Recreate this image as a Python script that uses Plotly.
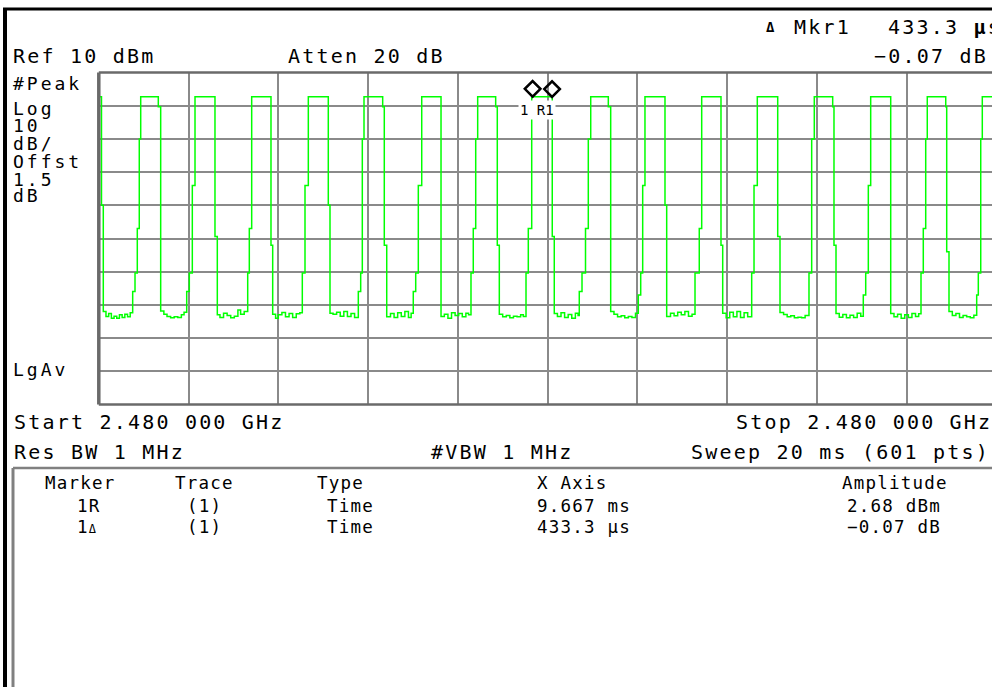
"""Spectrum analyzer zero-span screenshot: pulse train at 2.480 GHz."""

import plotly.graph_objects as go

W, H = 992, 687
FONT = "DejaVu Sans Mono"
TRACE_COLOR = "#00ff00"
GRID_COLOR = "#8a8a8a"
FRAME_COLOR = "#6a6a6a"

SWEEP_MS = 20.0
REF_DBM = 10.0
DB_PER_DIV = 10.0
N_DIV = 10

TRACE_MS = [
    0.000, 0.060,
    0.100, 0.160, 0.220, 0.280, 0.340, 0.400, 0.460, 0.520, 0.580, 0.640, 0.700,
    0.755, 0.807, 0.858, 0.902, 0.934, 1.326,
    1.379, 1.450, 1.520, 1.600, 1.680, 1.760, 1.840, 1.900,
    1.959, 2.017, 2.084, 2.144, 2.589,
    2.641, 2.700, 2.780, 2.860, 2.940, 3.020, 3.100, 3.160, 3.240,
    3.318, 3.354, 3.407, 3.837,
    3.875, 3.940, 4.000, 4.080, 4.160, 4.240, 4.320, 4.400, 4.480,
    4.535, 4.595, 4.669, 5.114,
    5.152, 5.220, 5.300, 5.380, 5.460, 5.540, 5.620, 5.700,
    5.783, 5.836, 5.872, 5.910, 6.326, 6.362,
    6.416, 6.500, 6.580, 6.660, 6.740, 6.820, 6.900, 6.960,
    7.008, 7.062, 7.120, 7.196,
    7.626, 7.700, 7.780, 7.860, 7.940, 8.020, 8.100, 8.180, 8.240,
    8.294, 8.345, 8.399, 8.443, 8.844, 8.880,
    8.925, 9.000, 9.080, 9.160, 9.240, 9.320, 9.400, 9.460,
    9.520, 9.571, 9.647, 10.105,
    10.150, 10.220, 10.300, 10.380, 10.460, 10.540, 10.620, 10.680,
    10.707, 10.768, 10.846, 10.908, 10.962, 11.354,
    11.407, 11.480, 11.560, 11.640, 11.720, 11.800, 11.880, 11.960,
    12.022, 12.076, 12.120, 12.171, 12.617,
    12.655, 12.740, 12.820, 12.900, 12.980, 13.060, 13.140, 13.220,
    13.286, 13.381, 13.435, 13.865,
    13.903, 13.980, 14.060, 14.140, 14.220, 14.300, 14.380, 14.460,
    14.549, 14.601, 14.674, 15.129,
    15.180, 15.260, 15.340, 15.420, 15.500, 15.580, 15.660, 15.740,
    15.826, 15.886, 15.944, 16.354, 16.383,
    16.428, 16.500, 16.580, 16.660, 16.740, 16.820, 16.900, 16.980,
    17.036, 17.090, 17.148, 17.201,
    17.647, 17.720, 17.800, 17.880, 17.960, 18.040, 18.120, 18.200, 18.270,
    18.322, 18.373, 18.427, 18.462, 18.873, 18.895,
    18.946, 19.020, 19.100, 19.180, 19.260, 19.340, 19.420, 19.500,
    19.563, 19.599, 19.653, 19.688, 20.000,
]

TRACE_DBM = [
    2.7, -30.0,
    -62.0, -63.5, -62.6, -64.0, -63.4, -64.0, -63.0, -63.8, -62.8, -63.6, -62.4,
    -56.0, -50.4, -37.0, -10.0, 2.7, -0.3,
    -61.8, -62.8, -63.5, -63.9, -63.6, -63.8, -63.0, -62.2,
    -56.0, -50.4, -24.0, 2.7, -39.4,
    -63.0, -63.8, -62.5, -63.2, -63.9, -63.4, -61.5, -62.8, -62.0,
    -50.4, -37.0, 2.7, -42.0,
    -62.8, -64.0, -63.0, -62.3, -63.6, -62.6, -63.8, -62.7, -62.4,
    -50.4, -24.0, 2.7, -30.0,
    -62.5, -62.8, -62.2, -63.4, -62.0, -63.5, -62.6, -63.8,
    -56.0, -50.4, -10.0, 2.7, -0.3, -42.0,
    -63.6, -62.6, -63.8, -62.4, -63.5, -62.0, -63.8, -62.5,
    -56.0, -50.4, -24.0, 2.7,
    -63.5, -62.8, -64.0, -62.4, -63.2, -62.6, -63.6, -62.5, -63.0,
    -50.4, -37.0, -10.0, 2.7, -0.3, -42.0,
    -62.8, -63.6, -63.2, -63.9, -63.4, -63.6, -63.0, -63.5,
    -50.4, -37.0, 2.7, -39.4,
    -62.6, -63.5, -62.4, -63.8, -62.9, -64.0, -62.5, -63.2,
    -56.0, -50.4, -37.0, -10.0, 2.7, -0.3,
    -62.0, -62.8, -63.6, -63.3, -63.9, -63.5, -63.8, -62.5,
    -57.0, -50.4, -24.0, 2.7, -30.0,
    -63.5, -62.5, -63.3, -62.2, -63.0, -62.0, -63.4, -62.8,
    -50.4, -37.0, 2.7, -42.0,
    -62.5, -63.9, -62.2, -63.6, -62.0, -63.8, -62.4, -63.6,
    -50.4, -24.0, 2.7, -39.4,
    -62.3, -62.9, -63.6, -63.3, -63.9, -63.7, -63.9, -63.2,
    -50.4, -10.0, 2.7, -0.3, -42.0,
    -62.6, -63.7, -62.9, -63.9, -63.1, -63.8, -62.5, -63.4,
    -57.0, -50.4, -24.0, 2.7,
    -62.6, -63.6, -62.8, -64.0, -63.0, -63.8, -62.6, -63.5, -62.7,
    -50.4, -37.0, -10.0, 2.7, -0.3, -44.0,
    -62.0, -63.2, -62.6, -63.8, -63.2, -63.6, -63.9, -63.1,
    -57.0, -50.4, -10.0, 2.7, 2.7,
]

MARKER_MS = [9.667, 9.667 + 0.4333]
MARKER_DBM = [2.68, 2.68 - 0.07]

SIDE_LABELS = ["#Peak", "Log", "10", "dB/", "Offst", "1.5", "dB", "LgAv"]

TABLE_HEAD = ["Marker", "Trace", "Type", "X Axis", "Amplitude"]
TABLE_ROWS = [
    ["1R", "(1)", "Time", "9.667 ms", "2.68 dBm"],
    ["1<span style='font-size:12px'>Δ</span>", "(1)", "Time", "433.3 µs", "−0.07 dB"],
]

# ---- screen geometry (pixels) ----------------------------------------------
PLOT_L, PLOT_T, PLOT_B = 98.8, 72.5, 404.5
PX_PER_MS = 897.5 / SWEEP_MS


def px(x, y):
    return x / W, 1 - y / H


fig = go.Figure()
fig.add_trace(
    go.Scatter(
        x=TRACE_MS,
        y=TRACE_DBM,
        mode="lines",
        line=dict(color=TRACE_COLOR, width=1.5, shape="hv"),
        hoverinfo="skip",
    )
)
fig.add_trace(
    go.Scatter(
        x=MARKER_MS,
        y=[v + 2.4 for v in MARKER_DBM],
        mode="markers",
        marker=dict(symbol="diamond-open", size=12, color="black", line=dict(width=2.5, color="black")),
        hoverinfo="skip",
    )
)

x0, _ = px(PLOT_L, 0)
_, y_top = px(0, PLOT_T)
_, y_bot = px(0, PLOT_B)

ann = []


def text(s, x, y, anchor="left", size=20, spacing=2.2):
    xp, yp = px(x, y)
    ann.append(
        dict(
            text=f"<span style='letter-spacing:{spacing}px'>{s}</span>",
            x=xp, y=yp, xref="paper", yref="paper", xanchor=anchor, yanchor="middle",
            showarrow=False, font=dict(family=FONT, size=size, color="black"),
        )
    )


# header
text("<b>Δ</b>", 770, 27, anchor="center", size=14, spacing=0)
text("Mkr1", 792, 27)
text("433.3 <b>µ</b>s", 886, 27)
text("Ref 10 dBm", 11, 56)
text("Atten 20 dB", 286, 56)
text("−0.07 dB", 872, 56)
for lbl, yy in zip(SIDE_LABELS, [84, 109, 126, 143, 161, 179, 196, 369]):
    text(lbl, 11, yy, size=18, spacing=3)
text("Start 2.480 000 GHz", 12, 422)
text("Stop 2.480 000 GHz", 734, 422)
text("Res BW 1 MHz", 12, 452)
text("#VBW 1 MHz", 429, 452)
text("Sweep 20 ms (601 pts)", 689, 452)

# marker table
col_x = [43, 173, 315, 535, 840]
for s, cx in zip(TABLE_HEAD, col_x):
    text(s, cx, 483, size=17.5, spacing=1.2)
row_x = [75, 185, 325, 535, 943]
for r, ry in zip(TABLE_ROWS, [506, 527]):
    for i, (s, cx) in enumerate(zip(r, row_x)):
        text(s, cx, ry, anchor="right" if i == 4 else "left", size=17.5, spacing=1.2)

# marker label on screen
ann.append(
    dict(
        text="1 R1", x=sum(MARKER_MS) / 2, y=MARKER_DBM[0], xref="x", yref="y",
        xshift=-5, yshift=-13, showarrow=False, bgcolor="white", borderpad=1,
        font=dict(family=FONT, size=14, color="black"),
    )
)

shapes = [
    # plot frame
    dict(type="line", xref="paper", yref="paper", x0=x0, x1=1, y0=y_top, y1=y_top,
         line=dict(color=FRAME_COLOR, width=2.5)),
    dict(type="line", xref="paper", yref="paper", x0=x0, x1=1, y0=y_bot, y1=y_bot,
         line=dict(color=FRAME_COLOR, width=2.5)),
    dict(type="line", xref="paper", yref="paper", x0=x0, x1=x0, y0=y_bot, y1=y_top,
         line=dict(color=FRAME_COLOR, width=3.5)),
]
for (ax, ay, bx, by, col, wd) in [
    (3, 9, 992, 9, "black", 3),
    (5, 9, 5, 687, "black", 4),
    (13, 468, 992, 468, "#808080", 2.5),
    (13, 468, 13, 687, "#808080", 3),
]:
    a = px(ax, ay)
    b = px(bx, by)
    shapes.append(dict(type="line", xref="paper", yref="paper", x0=a[0], y0=a[1], x1=b[0], y1=b[1],
                       line=dict(color=col, width=wd)))

fig.update_layout(
    width=W,
    height=H,
    margin=dict(l=0, r=0, t=0, b=0),
    paper_bgcolor="white",
    plot_bgcolor="white",
    showlegend=False,
    xaxis=dict(
        domain=[x0, 1],
        range=[0, (W - PLOT_L) / PX_PER_MS],
        tick0=0,
        dtick=SWEEP_MS / N_DIV,
        showgrid=True,
        gridcolor=GRID_COLOR,
        gridwidth=2,
        zeroline=False,
        showticklabels=False,
        ticks="",
        fixedrange=True,
    ),
    yaxis=dict(
        domain=[y_bot, y_top],
        range=[REF_DBM - N_DIV * DB_PER_DIV, REF_DBM],
        tick0=REF_DBM,
        dtick=DB_PER_DIV,
        showgrid=True,
        gridcolor=GRID_COLOR,
        gridwidth=2,
        zeroline=False,
        showticklabels=False,
        ticks="",
        fixedrange=True,
    ),
    annotations=ann,
    shapes=shapes,
)

fig.write_html(
    "out.html",
    config={"displayModeBar": False},
    post_script="document.body.style.margin='0';document.body.style.overflow='hidden';",
)
